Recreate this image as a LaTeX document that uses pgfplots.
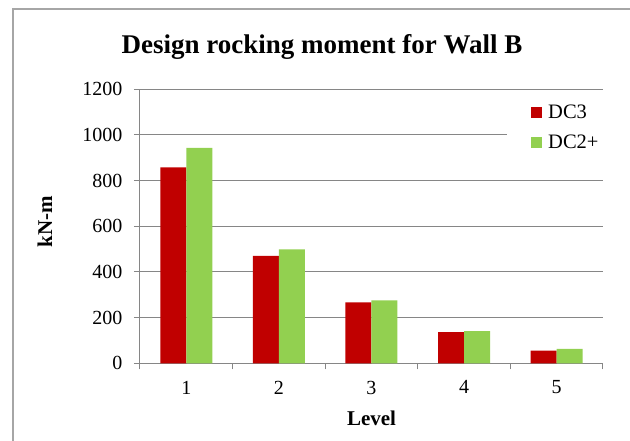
\documentclass[border=0pt]{standalone}
\usepackage{pgfplots}
\pgfplotsset{compat=1.18}
\usepackage{fontspec}
\setmainfont{Liberation Serif}
\definecolor{gridgray}{HTML}{868686}
\definecolor{framegray}{HTML}{A6A6A6}
\definecolor{dcred}{HTML}{C00000}
\definecolor{dcgreen}{HTML}{92D050}
\begin{document}
\begin{tikzpicture}
\useasboundingbox (-140pt,-77.7pt) rectangle (490pt,363.3pt);
\draw[framegray, line width=1.6pt] (-127pt,-90pt) -- (-127pt,354.3pt) -- (500pt,354.3pt);
\begin{axis}[
  at={(0pt,0pt)}, anchor=south west,
  scale only axis, width=463pt, height=274pt,
  ybar=0pt, bar width=26pt,
  xmin=0.5, xmax=5.5, ymin=0, ymax=1200,
  xtick={1,2,3,4,5},
  xticklabels={1,2,3,4,5},
  minor xtick={0.5,1.5,2.5,3.5,4.5,5.5},
  ytick={0,200,400,600,800,1000,1200},
  axis lines*=left,
  axis line style={gridgray, line width=1pt},
  tick align=outside,
  major tick length=6pt, minor tick length=6pt,
  x tick style={draw=none},
  minor x tick style={draw=gridgray, line width=1pt},
  y tick style={draw=gridgray, line width=1pt},
  ymajorgrids,
  major grid style={gridgray, line width=1pt},
  /pgf/number format/assume math mode=true,
  /pgf/number format/1000 sep={},
  tick label style={font=\fontsize{20}{24}\selectfont},
  yticklabel style={xshift=-8pt},
  xticklabel style={yshift=-8pt},
  xlabel={\textbf{Level}},
  ylabel={\textbf{kN-m}},
  xlabel style={font=\fontsize{21}{25}\selectfont, at={(axis description cs:0.5,-0.2252)}, anchor=base},
  ylabel style={font=\fontsize{21}{25}\selectfont, at={(axis description cs:-0.1900,0.5157)}, anchor=base},
  legend style={at={(axis description cs:0.7927,0.958)}, anchor=north west, draw=none, fill=white,
    font=\fontsize{20.5}{24}\selectfont, row sep=11pt, inner xsep=24pt,
    /tikz/every odd column/.append style={column sep=4pt}},
  legend cell align=left,
  legend image code/.code={\fill[#1,draw=none] (0pt,-5.5pt) rectangle (11pt,5.5pt);},
]
\addplot[fill=dcred, draw=none] coordinates {(1,858) (2,470) (3,267) (4,136) (5,55)};
\addplot[fill=dcgreen, draw=none] coordinates {(1,943) (2,499) (3,276) (4,141) (5,63)};
\legend{DC3,DC2+}
\end{axis}
\node[anchor=base, font=\fontsize{27}{32}\selectfont\bfseries] at (182pt,310pt) {Design rocking moment for Wall B};
\end{tikzpicture}
\end{document}
